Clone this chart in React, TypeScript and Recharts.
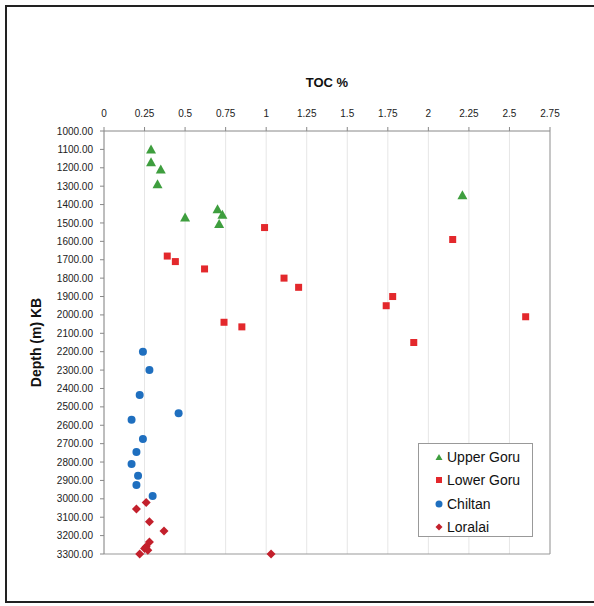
import React from 'react';
import {
  ScatterChart, Scatter,
  XAxis, YAxis,
  CartesianGrid, Legend, ReferenceLine,
} from 'recharts';

// TOC % (x) vs Depth in m KB (y)
const upperGoruToc = [0.29, 0.29, 0.35, 0.33, 0.5, 0.7, 0.73, 0.71, 2.21];
const upperGoruDepth = [1100, 1170, 1210, 1290, 1470, 1425, 1455, 1505, 1350];

const lowerGoruToc = [0.99, 0.39, 0.44, 0.62, 1.11, 1.2, 0.74, 0.85, 2.15, 1.78, 1.74, 2.6, 1.91];
const lowerGoruDepth = [1525, 1680, 1710, 1750, 1800, 1850, 2040, 2065, 1590, 1900, 1950, 2010, 2150];

const chiltanToc = [0.24, 0.28, 0.22, 0.46, 0.17, 0.24, 0.2, 0.17, 0.21, 0.2, 0.3];
const chiltanDepth = [2200, 2300, 2435, 2535, 2570, 2675, 2745, 2810, 2875, 2925, 2985];

const loralaiToc = [0.26, 0.2, 0.28, 0.37, 0.28, 0.26, 0.25, 0.27, 0.22, 1.03];
const loralaiDepth = [3020, 3055, 3125, 3175, 3235, 3260, 3270, 3280, 3300, 3300];

const seriesNames = ['Upper Goru', 'Lower Goru', 'Chiltan', 'Loralai'];

const xTicks = [0, 0.25, 0.5, 0.75, 1, 1.25, 1.5, 1.75, 2, 2.25, 2.5, 2.75];
const yTicks = [1000, 1100, 1200, 1300, 1400, 1500, 1600, 1700, 1800, 1900, 2000, 2100,
  2200, 2300, 2400, 2500, 2600, 2700, 2800, 2900, 3000, 3100, 3200, 3300];

const toPoints = (toc: number[], depth: number[]) => toc.map((t, i) => ({ toc: t, depth: depth[i] }));

const COLORS = {
  upper: '#3e9e3e',
  lower: '#e3282c',
  chiltan: '#1f6fbf',
  loralai: '#c3202c',
};

const FONT = '"Liberation Sans", Arial, sans-serif';

const Triangle = ({ cx, cy }: any) => (
  <path d={`M${cx},${cy - 5} L${cx + 5},${cy + 4} L${cx - 5},${cy + 4} Z`} fill={COLORS.upper} />
);
const Square = ({ cx, cy }: any) => (
  <rect x={cx - 3.5} y={cy - 3.5} width={7} height={7} fill={COLORS.lower} />
);
const Circle = ({ cx, cy }: any) => <circle cx={cx} cy={cy} r={4} fill={COLORS.chiltan} />;
const Diamond = ({ cx, cy }: any) => (
  <path d={`M${cx},${cy - 4.5} L${cx + 4.5},${cy} L${cx},${cy + 4.5} L${cx - 4.5},${cy} Z`} fill={COLORS.loralai} />
);

const legendIcons: Record<string, React.ReactNode> = {
  'Upper Goru': <path d="M5,2 L8.5,8 L1.5,8 Z" fill={COLORS.upper} />,
  'Lower Goru': <rect x={2} y={2} width={6} height={6} fill={COLORS.lower} />,
  'Chiltan': <circle cx={5} cy={5} r={3.5} fill={COLORS.chiltan} />,
  'Loralai': <path d="M5,1.5 L8.5,5 L5,8.5 L1.5,5 Z" fill={COLORS.loralai} />,
};

// keep the legend in series order (recharts sorts by name otherwise)
function LegendBox() {
  return (
    <div style={{ padding: '1px 0 0 15px' }}>
      {seriesNames.map(name => (
        <div key={name} style={{ display: 'flex', alignItems: 'center', height: 23.5 }}>
          <svg width={10} height={10} style={{ marginRight: 3 }}>{legendIcons[name]}</svg>
          <span style={{ fontFamily: FONT, fontSize: 14, color: '#111' }}>{name}</span>
        </div>
      ))}
    </div>
  );
}

export default function App() {
  return (
    <div style={{ position: 'absolute', left: 0, top: 0, width: 594, height: 606, overflow: 'hidden', background: '#fff' }}>
      <div style={{
        position: 'absolute', left: 5, top: 5, width: 600, height: 598,
        border: '2px solid #222', boxSizing: 'border-box',
      }} />
      <div style={{ position: 'absolute', left: 0, top: 0 }}>
        <ScatterChart width={594} height={606} margin={{ top: 75, right: 44, bottom: 52, left: 20 }}>
          <CartesianGrid horizontal={false} stroke="#e6e6e6" />
          <XAxis
            type="number"
            dataKey="toc"
            orientation="top"
            domain={[0, 2.75]}
            ticks={xTicks}
            height={56}
            tickSize={4}
            tickMargin={10}
            stroke="#888"
            tick={{ fontSize: 10, fill: '#222', fontFamily: FONT }}
            tickFormatter={(v: number) => String(v)}
            label={{
              value: 'TOC %', position: 'insideTop', offset: 3,
              style: { fontSize: 13, fontWeight: 'bold', fill: '#111', fontFamily: FONT },
            }}
          />
          <YAxis
            type="number"
            dataKey="depth"
            reversed
            domain={[1000, 3300]}
            ticks={yTicks}
            width={84}
            tickSize={4}
            tickMargin={7}
            stroke="#888"
            interval={0}
            tick={{ fontSize: 10, fill: '#222', fontFamily: FONT }}
            tickFormatter={(v: number) => v.toFixed(2)}
            label={{
              value: 'Depth (m) KB', angle: -90, position: 'insideLeft', offset: 16,
              style: { fontSize: 14, fontWeight: 'bold', fill: '#111', fontFamily: FONT, textAnchor: 'middle' },
            }}
          />
          <ReferenceLine x={2.75} stroke="#999" />
          <ReferenceLine y={3300} stroke="#999" />
          <Legend
            layout="vertical"
            align="center"
            verticalAlign="middle"
            content={<LegendBox />}
            wrapperStyle={{
              left: 418, top: 443, width: 115, height: 94, right: 'auto', bottom: 'auto',
              border: '1px solid #999', background: '#fff', boxSizing: 'border-box',
            }}
          />
          <Scatter name="Upper Goru" data={toPoints(upperGoruToc, upperGoruDepth)} fill={COLORS.upper} shape={Triangle} isAnimationActive={false} />
          <Scatter name="Lower Goru" data={toPoints(lowerGoruToc, lowerGoruDepth)} fill={COLORS.lower} shape={Square} isAnimationActive={false} />
          <Scatter name="Chiltan" data={toPoints(chiltanToc, chiltanDepth)} fill={COLORS.chiltan} shape={Circle} isAnimationActive={false} />
          <Scatter name="Loralai" data={toPoints(loralaiToc, loralaiDepth)} fill={COLORS.loralai} shape={Diamond} isAnimationActive={false} />
        </ScatterChart>
      </div>
    </div>
  );
}
